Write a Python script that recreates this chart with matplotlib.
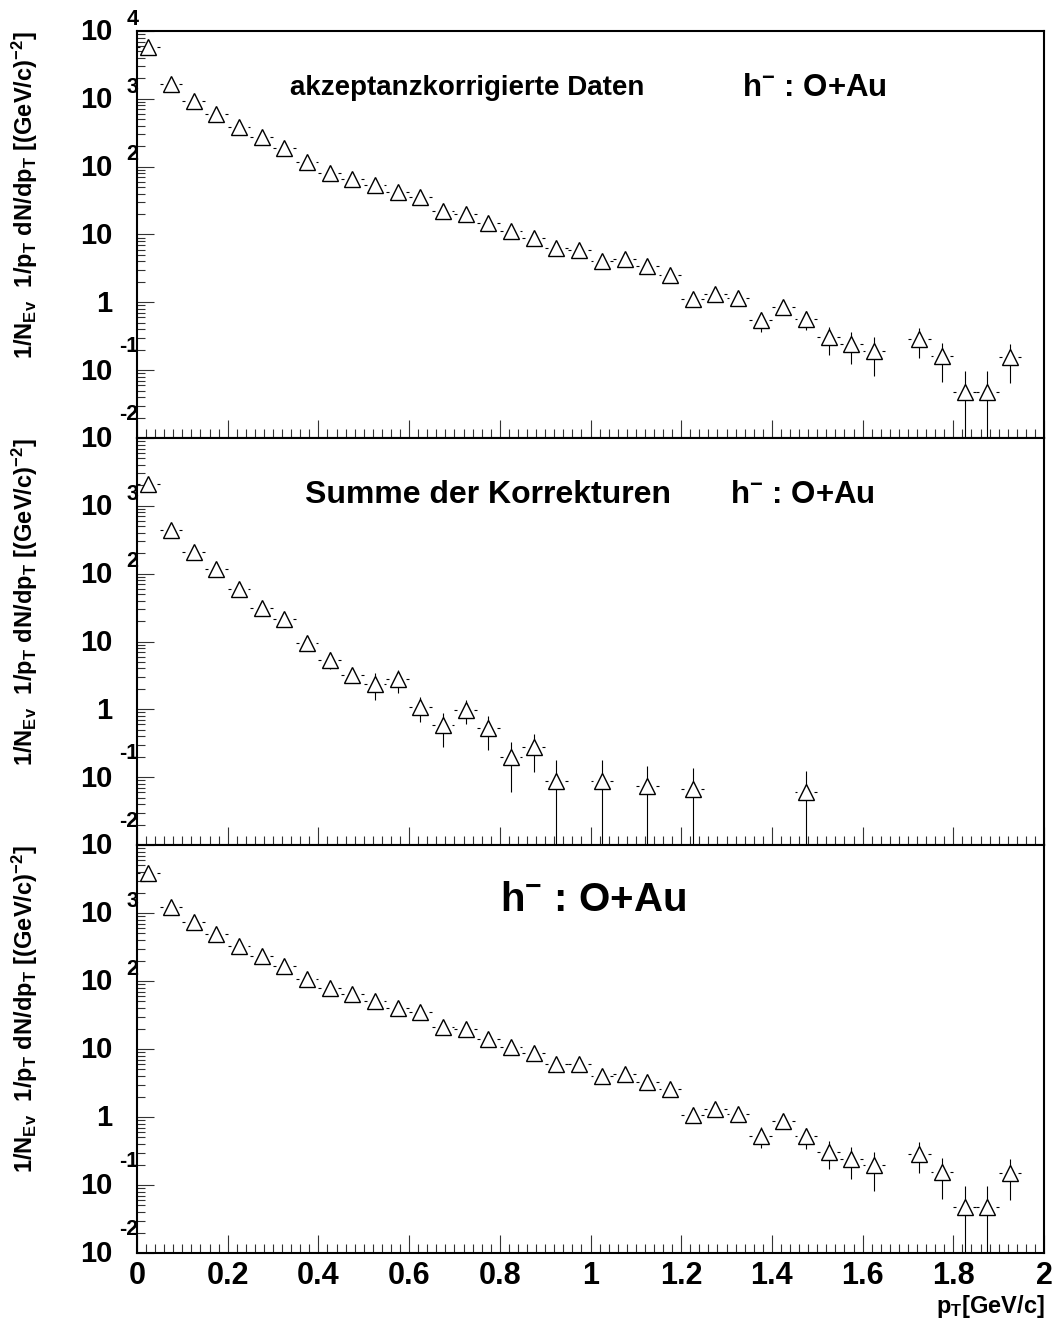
import numpy as np
import matplotlib
matplotlib.use('Agg')
import matplotlib.pyplot as plt
from matplotlib.ticker import MultipleLocator, LogLocator, NullFormatter, FuncFormatter

plt.rcParams['font.family'] = ['Liberation Sans', 'DejaVu Sans']
plt.rcParams['font.weight'] = 'bold'
plt.rcParams['mathtext.fontset'] = 'custom'
plt.rcParams['mathtext.rm'] = 'Liberation Sans:bold'
plt.rcParams['mathtext.bf'] = 'Liberation Sans:bold'
plt.rcParams['mathtext.it'] = 'Liberation Sans:bold'
plt.rcParams['mathtext.default'] = 'bf'

# pT bin centres (bin width 0.05 GeV/c)
pt_full = [0.025, 0.075, 0.125, 0.175, 0.225, 0.275, 0.325, 0.375, 0.425, 0.475,
           0.525, 0.575, 0.625, 0.675, 0.725, 0.775, 0.825, 0.875, 0.925, 0.975,
           1.025, 1.075, 1.125, 1.175, 1.225, 1.275, 1.325, 1.375, 1.425, 1.475,
           1.525, 1.575, 1.625, 1.725, 1.775, 1.825, 1.875, 1.925]
pt_corr = [0.025, 0.075, 0.125, 0.175, 0.225, 0.275, 0.325, 0.375, 0.425, 0.475,
           0.525, 0.575, 0.625, 0.675, 0.725, 0.775, 0.825, 0.875, 0.925, 1.025,
           1.125, 1.225, 1.475]
bin_half = 0.025

# akzeptanzkorrigierte Daten
acc_val = [5900, 1650, 920, 597, 385, 270, 188, 117, 82, 66.5,
           53, 43, 36, 22, 20.3, 14.8, 11.1, 8.9, 6.3, 6.0,
           4.1, 4.35, 3.4, 2.56, 1.13, 1.34, 1.15, 0.54, 0.86, 0.57,
           0.305, 0.243, 0.194, 0.288, 0.16, 0.047, 0.047, 0.155]
acc_err = [60, 25, 15, 10, 7, 5.5, 4.5, 3.5, 2.8, 2.5,
           2.2, 2.0, 1.8, 1.4, 1.3, 1.1, 0.95, 0.85, 0.7, 0.7,
           0.55, 0.6, 0.5, 0.42, 0.12, 0.15, 0.14, 0.18, 0.1, 0.18,
           0.135, 0.12, 0.113, 0.137, 0.092, 0.049, 0.049, 0.09]

# Summe der Korrekturen
corr_val = [2080, 442, 212, 116, 59, 31.7, 21.6, 9.46, 5.4, 3.23,
            2.38, 2.76, 1.09, 0.58, 0.986, 0.53, 0.196, 0.278, 0.0887, 0.0887,
            0.0733, 0.067, 0.061]
corr_err = [45, 15, 8, 5.5, 3.5, 2.5, 2.0, 1.3, 1.5, 0.7,
            1.0, 1.0, 0.43, 0.3, 0.38, 0.28, 0.136, 0.16, 0.092, 0.092,
            0.075, 0.069, 0.064]

# h- : O+Au
fin_val = [3860, 1220, 725, 493, 324, 234, 165, 108, 78.8, 63.6,
           51.3, 40.4, 35.3, 21.2, 19.4, 14.1, 10.6, 8.6, 6.1, 5.97,
           3.98, 4.26, 3.28, 2.56, 1.08, 1.33, 1.12, 0.53, 0.873, 0.52,
           0.305, 0.243, 0.194, 0.285, 0.155, 0.047, 0.047, 0.151]
fin_err = [55, 22, 14, 9, 6.5, 5, 4.2, 3.3, 2.7, 2.4,
           2.1, 1.9, 1.7, 1.4, 1.3, 1.1, 0.95, 0.85, 0.7, 0.7,
           0.55, 0.6, 0.5, 0.42, 0.12, 0.15, 0.14, 0.18, 0.1, 0.18,
           0.135, 0.12, 0.113, 0.137, 0.092, 0.049, 0.049, 0.09]

ylabel = r'$1/N_{Ev}\ \ 1/p_{T}\ dN/dp_{T}\ [(GeV/c)^{-2}]$'

W, H = 1057, 1329
fig = plt.figure(figsize=(W / 100, H / 100), dpi=100)


def panel(top_px, bot_px):
    return fig.add_axes([137 / W, 1 - bot_px / H, 907 / W, (bot_px - top_px) / H])


def draw(ax, x, v, e, label_top=True, xlabels=False):
    x = np.array(x)
    v = np.array(v, dtype=float)
    e = np.array(e, dtype=float)
    inner = 0.0187  # marker half width in data units
    ax.vlines(x, np.clip(v - e, 1e-6, None), v + e, color='black', lw=0.8, zorder=2)
    ax.hlines(v, x - bin_half, x - inner, color='black', lw=0.8, zorder=2)
    ax.hlines(v, x + inner, x + bin_half, color='black', lw=0.8, zorder=2)
    ax.plot(x, v, ls='none', marker='^', ms=12, mfc='white', mec='black', mew=1.0, zorder=3)

    ax.set_xlim(0, 2)
    ax.set_yscale('log')
    ax.set_ylim(1e-2, 1e4)
    ax.xaxis.set_major_locator(MultipleLocator(0.2))
    ax.xaxis.set_minor_locator(MultipleLocator(0.02))
    ax.yaxis.set_major_locator(LogLocator(base=10, numticks=20))
    ax.yaxis.set_minor_locator(LogLocator(base=10, subs=range(2, 10), numticks=20))
    ax.yaxis.set_major_formatter(NullFormatter())
    ax.yaxis.set_minor_formatter(NullFormatter())
    ax.tick_params(axis='both', which='both', direction='in', top=False, right=False,
                   width=0.8, color='#333333')
    ax.tick_params(axis='x', which='major', length=13)
    ax.tick_params(axis='x', which='minor', length=6.5)
    ax.tick_params(axis='y', which='major', length=12)
    ax.tick_params(axis='y', which='minor', length=6)
    for s in ax.spines.values():
        s.set_linewidth(1.5)

    if xlabels:
        ax.xaxis.set_major_formatter(FuncFormatter(lambda t, p: f'{t:g}'))
        ax.tick_params(axis='x', which='major', labelsize=22, pad=6)
    else:
        ax.xaxis.set_major_formatter(NullFormatter())

    # ROOT style log labels
    for k in range(-2, 5):
        if k == 4 and not label_top:
            continue
        base = '1' if k == 0 else '10'
        ax.annotate(base, xy=(0, 10.0 ** k), xycoords=('axes fraction', 'data'),
                    xytext=(-18, -1), textcoords='offset points', ha='right', va='center',
                    fontsize=21, fontweight='bold', annotation_clip=False)
        if k not in (0, 1):
            dy = 8.5 if k > 0 else 17
            ax.annotate(str(k), xy=(0, 10.0 ** k), xycoords=('axes fraction', 'data'),
                        xytext=(1, dy), textcoords='offset points', ha='right', va='center',
                        fontsize=15.5, fontweight='bold', annotation_clip=False)

    ax.text(-0.1235, 1.0, ylabel, rotation=90, ha='center', va='top',
            transform=ax.transAxes, fontsize=17)


ax1 = panel(31, 438)
draw(ax1, pt_full, acc_val, acc_err, label_top=True)
tr = ax1.get_xaxis_transform()
ax1.text(0.337, 0.86, 'akzeptanzkorrigierte Daten', transform=tr, ha='left', va='center', fontsize=20)
ax1.text(1.334, 0.86, r'$h^{-}$ : O+Au', transform=tr, ha='left', va='center', fontsize=22.5)

ax2 = panel(438, 845)
draw(ax2, pt_corr, corr_val, corr_err, label_top=False)
tr = ax2.get_xaxis_transform()
ax2.text(0.370, 0.86, 'Summe der Korrekturen', transform=tr, ha='left', va='center', fontsize=23)
ax2.text(1.308, 0.86, r'$h^{-}$ : O+Au', transform=tr, ha='left', va='center', fontsize=22.5)

ax3 = panel(845, 1253)
draw(ax3, pt_full, fin_val, fin_err, label_top=False, xlabels=True)
tr = ax3.get_xaxis_transform()
ax3.text(0.800, 0.865, r'$h^{-}$ : O+Au', transform=tr, ha='left', va='center', fontsize=29)

fig.text(1045 / W, 1 - 1307 / H, r'$p_{T}$[GeV/c]', ha='right', va='center', fontsize=17)

fig.savefig('out.png', dpi=100)
